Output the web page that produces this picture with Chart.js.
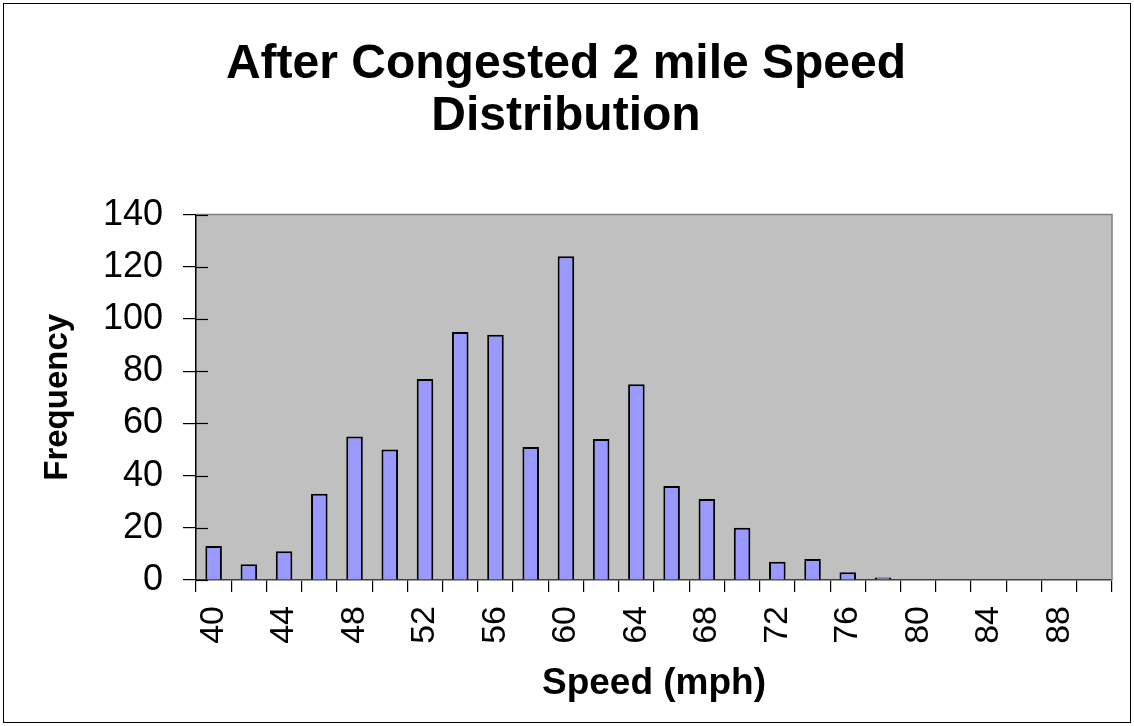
<!DOCTYPE html>
<html>
<head>
<meta charset="utf-8">
<script src="https://cdn.jsdelivr.net/npm/chart.js@4.4.1/dist/chart.umd.min.js"></script>
<style>
  html, body { margin: 0; padding: 0; background: #fff; }
  #wrap { width: 1134px; height: 726px; }
</style>
</head>
<body>
<div id="wrap"><canvas id="speedChart" width="1134" height="726"></canvas></div>
<script>
// --- DATA ---
const chartTitle = ['After Congested 2 mile Speed', 'Distribution'];
const speedBins = ['40', '42', '44', '46', '48', '50', '52', '54', '56', '58', '60', '62', '64',
  '66', '68', '70', '72', '74', '76', '78', '80', '82', '84', '86', '88', '90'];
const frequency = [13, 6, 11, 33, 55, 50, 77, 95, 94, 51, 124, 54, 75,
  36, 31, 20, 7, 8, 3, 1, 0, 0, 0, 0, 0, 0];
const yMin = 0;
const yMax = 140;
const yStep = 20;

// plot background, frame and the little tick stubs inside the plot
const framePlugin = {
  id: 'frame',
  beforeDraw(chart) {
    const { ctx, chartArea: a } = chart;
    ctx.save();
    ctx.fillStyle = '#c0c0c0';
    ctx.fillRect(a.left, a.top, a.right - a.left, a.bottom - a.top);
    ctx.restore();
  },
  afterDraw(chart) {
    const { ctx, chartArea: a } = chart;
    ctx.save();
    ctx.strokeStyle = '#808080';
    ctx.lineWidth = 1.5;
    ctx.beginPath();
    ctx.moveTo(a.left, a.top);
    ctx.lineTo(a.right, a.top);
    ctx.lineTo(a.right, a.bottom);
    ctx.stroke();

    // y ticks cross the axis a bit into the plot
    const y = chart.scales.y;
    ctx.strokeStyle = '#000';
    ctx.lineWidth = 1.2;
    y.ticks.forEach((t, i) => {
      const py = Math.round(y.getPixelForTick(i)) + 0.5;
      ctx.beginPath();
      ctx.moveTo(a.left, py);
      ctx.lineTo(a.left + 12, py);
      ctx.stroke();
    });

    // outer border round the whole chart
    ctx.lineWidth = 1;
    ctx.strokeStyle = '#000';
    ctx.strokeRect(3.5, 3.5, chart.width - 7, chart.height - 7);
    ctx.restore();
  }
};

const ctx = document.getElementById('speedChart').getContext('2d');
new Chart(ctx, {
  type: 'bar',
  data: {
    labels: speedBins,
    datasets: [{
      label: 'Frequency',
      data: frequency,
      backgroundColor: '#9999ff',
      borderColor: '#000',
      borderWidth: 2,
      barPercentage: 0.47,
      categoryPercentage: 1
    }]
  },
  options: {
    responsive: false,
    animation: false,
    layout: { padding: { left: 20, right: 22, top: 0, bottom: 18 } },
    plugins: {
      legend: { display: false },
      tooltip: { enabled: false },
      title: {
        display: true,
        text: chartTitle,
        color: '#000',
        font: { family: 'Arial, "Liberation Sans", sans-serif', size: 48, weight: 'bold', lineHeight: 1.1 },
        padding: { top: 38, bottom: 71 }
      }
    },
    scales: {
      x: {
        offset: true,
        grid: {
          offset: true,
          drawOnChartArea: false,
          drawTicks: true,
          tickLength: 12,
          color: '#000',
          lineWidth: 1.2
        },
        border: { color: '#404040', width: 1.5 },
        ticks: {
          autoSkip: false,
          minRotation: 90,
          maxRotation: 90,
          padding: 14,
          color: '#000',
          font: { family: 'Arial, "Liberation Sans", sans-serif', size: 34 },
          callback: function (val, i) { return i % 2 === 0 ? this.getLabelForValue(val) : ''; }
        },
        title: {
          display: true,
          text: 'Speed (mph)',
          color: '#000',
          font: { family: 'Arial, "Liberation Sans", sans-serif', size: 37, weight: 'bold' },
          padding: { top: 0, bottom: 2 }
        },
        afterFit(scale) {
          scale.height = 128;
          scale.paddingLeft = 0;
          scale.paddingRight = 0;
        }
      },
      y: {
        min: yMin,
        max: yMax,
        grid: {
          drawOnChartArea: false,
          tickLength: 13,
          color: '#000',
          lineWidth: 1.2
        },
        border: { color: '#000', width: 1.5 },
        ticks: {
          stepSize: yStep,
          padding: 20,
          color: '#000',
          font: { family: 'Arial, "Liberation Sans", sans-serif', size: 36 }
        },
        title: {
          display: true,
          text: 'Frequency',
          color: '#000',
          font: { family: 'Arial, "Liberation Sans", sans-serif', size: 33, weight: 'bold' },
          padding: { top: 18, bottom: 0 }
        },
        afterFit(scale) { scale.width = 176; }
      }
    }
  },
  plugins: [framePlugin]
});
</script>
</body>
</html>
